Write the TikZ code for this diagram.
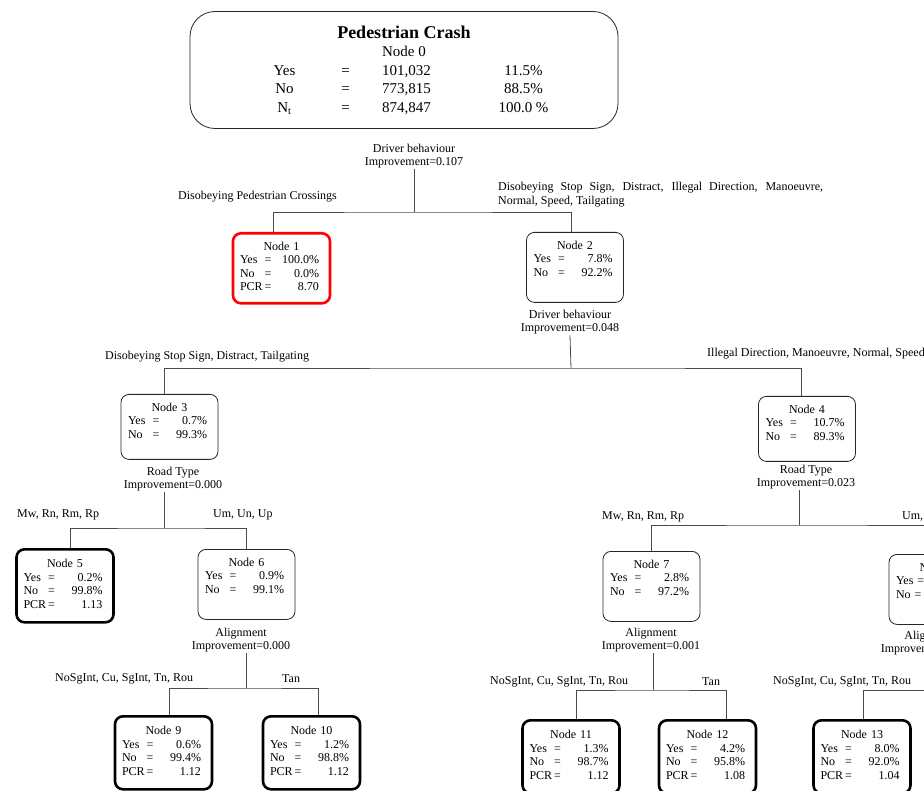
\documentclass[tikz,border=0pt]{standalone}
\usepackage{fontspec}
\setmainfont{Liberation Serif}

\newcommand{\statrow}[2]{\makebox[23pt][l]{#1}\makebox[10pt]{=}\makebox[46pt][r]{#2}}
\newcommand{\boxhead}[1]{\makebox[83pt]{#1}}
\newcommand{\rootrow}[3]{\makebox[61pt]{#1}\makebox[61pt]{=}\makebox[61pt]{#2}\hspace{56pt}\makebox[61pt]{#3}}

\begin{document}
\begin{tikzpicture}[x=1pt, y=-1pt,
	txt/.style={font=\fontsize{12}{13.5}\selectfont},
	split/.style={txt, align=center, inner sep=1pt},
	branch/.style={txt, inner sep=0pt, anchor=west},
	midbox/.style={txt, draw=black!85, line width=0.8pt, rounded corners=8pt, text width=83pt, inner xsep=7pt, inner ysep=8pt, text height=9pt, text depth=45pt, align=left, anchor=north},
	shortbox/.style={midbox, text depth=40pt},
	leafbox/.style={midbox, draw=black, line width=2.6pt, inner ysep=9.5pt},
	redbox/.style={midbox, draw=red, line width=2.6pt},
	rootbox/.style={draw=black!85, line width=0.8pt, rounded corners=25pt, minimum width=428pt, minimum height=117pt, align=center, font=\fontsize{15}{18.5}\selectfont},
	link/.style={draw=black!70, line width=0.8pt}]

	\fill[white] (0,0) rectangle (924,791);
	\clip (0,0) rectangle (924,791);

	\node[rootbox] (n0) at (404,70) {{\fontsize{18}{18.5}\selectfont\bfseries Pedestrian Crash}\\ Node 0\\ \rootrow{Yes}{101,032}{11.5\%}\\ \rootrow{No}{773,815}{88.5\%}\\ \rootrow{N\textsubscript{t}}{874,847}{100.0 \%}};

	\node[split] (sp0) at (414,156) {Driver behaviour\\Improvement=0.107};
	\coordinate (b0) at (414,212);
	\node[branch] (l1) at (178,197) {Disobeying Pedestrian Crossings};
	\node[branch, align=left] (l2) at (498,194.5) {\makebox[325pt][s]{Disobeying Stop Sign, Distract, Illegal Direction, Manoeuvre,}\\ Normal, Speed, Tailgating};
	\node[redbox] (n1) at (281.5,232) {\boxhead{Node 1}\\ \statrow{Yes}{100.0\%}\\ \statrow{No}{0.0\%}\\ \statrow{PCR}{8.70}};
	\node[midbox] (n2) at (575,232) {\boxhead{Node 2}\\ \statrow{Yes}{7.8\%}\\ \statrow{No}{92.2\%}};
	\draw[link] (b0) -- (sp0.south);
	\draw[link] ([xshift=-8.5]n1.north) |- (b0) -| ([xshift=-4]n2.north);

	\node[split] (sp2) at (570,322) {Driver behaviour\\Improvement=0.048};
	\coordinate (b2) at (571,368);
	\node[branch] (l3) at (105,357) {Disobeying Stop Sign, Distract, Tailgating};
	\node[branch] (l4) at (707,354) {Illegal Direction, Manoeuvre, Normal, Speed};
	\node[shortbox] (n3) at (169.5,394) {\boxhead{Node 3}\\ \statrow{Yes}{0.7\%}\\ \statrow{No}{99.3\%}};
	\node[shortbox] (n4) at (807,396) {\boxhead{Node 4}\\ \statrow{Yes}{10.7\%}\\ \statrow{No}{89.3\%}};
	\draw[link] (b2) -- (sp2.south);
	\draw[link] ([xshift=-5.5]n3.north) |- (b2) -| ([xshift=-6]n4.north);

	\node[split] (sp3) at (173,479) {Road Type\\Improvement=0.000};
	\coordinate (b3) at (164,528);
	\node[branch] (l5) at (17,515) {Mw, Rn, Rm, Rp};
	\node[branch] (l6) at (213,515) {Um, Un, Up};
	\node[leafbox] (n5) at (65,548) {\boxhead{Node 5}\\ \statrow{Yes}{0.2\%}\\ \statrow{No}{99.8\%}\\ \statrow{PCR}{1.13}};
	\node[midbox] (n6) at (246.5,549) {\boxhead{Node 6}\\ \statrow{Yes}{0.9\%}\\ \statrow{No}{99.1\%}};
	\draw[link] (b3) -- (b3 |- sp3.south);
	\draw[link] ([xshift=5]n5.north) |- (b3) -| (n6.north);

	\node[split] (sp6) at (241,640) {Alignment\\Improvement=0.000};
	\coordinate (b6) at (246,688);
	\node[branch] (l9) at (55,679) {NoSgInt, Cu, SgInt, Tn, Rou};
	\node[branch] (l10) at (282,679) {Tan};
	\node[leafbox] (n9) at (163.5,715) {\boxhead{Node 9}\\ \statrow{Yes}{0.6\%}\\ \statrow{No}{99.4\%}\\ \statrow{PCR}{1.12}};
	\node[leafbox] (n10) at (311.5,715) {\boxhead{Node 10}\\ \statrow{Yes}{1.2\%}\\ \statrow{No}{98.8\%}\\ \statrow{PCR}{1.12}};
	\draw[link] (b6) -- (b6 |- sp6.south);
	\draw[link] ([xshift=5.5]n9.north) |- (b6) -| ([xshift=6.5]n10.north);

	\node[split] (sp4) at (806,477) {Road Type\\Improvement=0.023};
	\coordinate (b4) at (799,525);
	\node[branch] (l7) at (602,517) {Mw, Rn, Rm, Rp};
	\node[branch] (l8) at (902,517) {Um, Un, Up};
	\node[midbox] (n7) at (651.5,551) {\boxhead{Node 7}\\ \statrow{Yes}{2.8\%}\\ \statrow{No}{97.2\%}};
	\node[midbox] (n8) at (937.5,554) {\boxhead{Node 8}\\ Yes =\\ No =};
	\draw[link] (b4) -- (b4 |- sp4.south);
	\draw[link] (n7.north) |- (b4) -| (n8.north);

	\node[split] (sp7) at (651,640) {Alignment\\Improvement=0.001};
	\coordinate (b7) at (653,690);
	\node[branch] (l11) at (490,682) {NoSgInt, Cu, SgInt, Tn, Rou};
	\node[branch] (l12) at (702,682) {Tan};
	\node[leafbox] (n11) at (571,719) {\boxhead{Node 11}\\ \statrow{Yes}{1.3\%}\\ \statrow{No}{98.7\%}\\ \statrow{PCR}{1.12}};
	\node[leafbox] (n12) at (707.5,719) {\boxhead{Node 12}\\ \statrow{Yes}{4.2\%}\\ \statrow{No}{95.8\%}\\ \statrow{PCR}{1.08}};
	\draw[link] (b7) -- (b7 |- sp7.south);
	\draw[link] ([xshift=5]n11.north) |- (b7) -| ([xshift=18.5]n12.north);

	\node[split] (sp8) at (930,643) {Alignment\\Improvement=\phantom{0.000}};
	\coordinate (b8) at (930,690);
	\node[branch] (l13) at (773,682) {NoSgInt, Cu, SgInt, Tn, Rou};
	\node[leafbox] (n13) at (862,719) {\boxhead{Node 13}\\ \statrow{Yes}{8.0\%}\\ \statrow{No}{92.0\%}\\ \statrow{PCR}{1.04}};
	\draw[link] (b8) -- (sp8.south);
	\draw[link] ([xshift=1]n13.north) |- (b8);

\end{tikzpicture}
\end{document}
